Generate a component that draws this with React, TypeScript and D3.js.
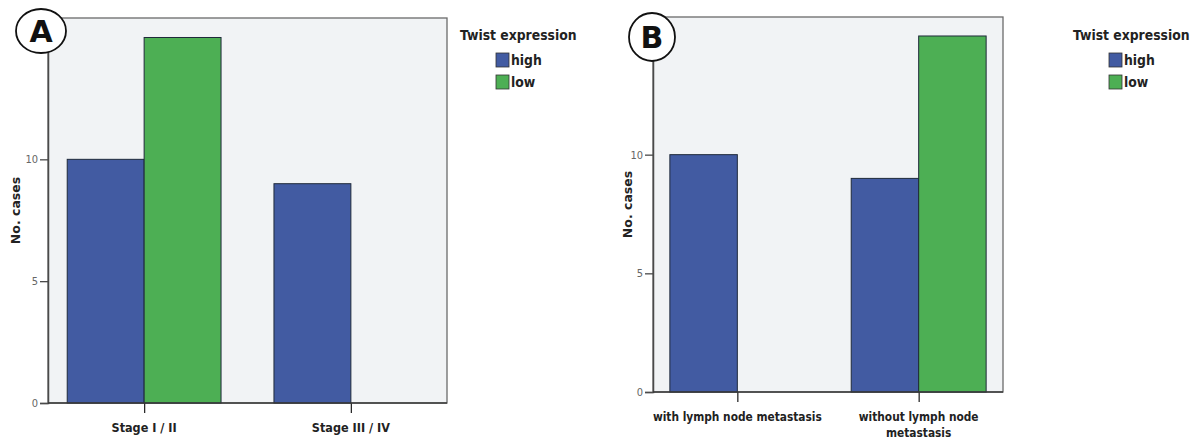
// App.tsx
import React, { useRef, useEffect } from 'react';
import * as d3 from 'd3';

// data
const seriesNames = ['high', 'low'];
const seriesColors = ['#425ba2', '#4daf54'];
const yTicks = [0, 5, 10];

const stageCategories = ['Stage I / II', 'Stage III / IV'];
const stageHigh = [10, 9];
const stageLow = [15, 0];

const lymphCategories = ['with lymph node metastasis', 'without lymph node metastasis'];
const lymphLabelLines = [['with lymph node metastasis'], ['without lymph node', 'metastasis']];
const lymphHigh = [10, 9];
const lymphLow = [0, 15];

const FONT = "'DejaVu Sans Condensed', 'Liberation Sans Narrow', 'DejaVu Sans', sans-serif";

const panels = [
  {
    letter: 'A',
    categories: stageCategories,
    labelLines: stageCategories.map((c) => [c]),
    high: stageHigh,
    low: stageLow,
    frame: { left: 48, top: 18, right: 447, bottom: 403 },
    badge: { cx: 41, cy: 31, rx: 25, ry: 22 },
    yTitleX: 16,
    legendX: 460,
    labelY: 432,
    labelSize: 12.5,
  },
  {
    letter: 'B',
    categories: lymphCategories,
    labelLines: lymphLabelLines,
    high: lymphHigh,
    low: lymphLow,
    frame: { left: 653, top: 17, right: 1003, bottom: 392 },
    badge: { cx: 652, cy: 37, rx: 23, ry: 24 },
    yTitleX: 628,
    legendX: 1073,
    labelY: 421,
    labelSize: 11.8,
  },
];

const App = () => {
  const chartRef = useRef<SVGSVGElement>(null);

  useEffect(() => {
    const root = d3.select(chartRef.current);
    root.selectAll('*').remove();

    panels.forEach((p) => {
      const { left, top, right, bottom } = p.frame;
      const g = root.append('g');

      const xScale = d3.scalePoint<string>().domain(p.categories).range([left, right]).padding(0.465);
      const barW = xScale.step() * 0.372;
      const yScale = d3.scaleLinear().domain([0, 15.8]).range([bottom, top]);

      // plot background + frame
      g.append('rect')
        .attr('x', left)
        .attr('y', top)
        .attr('width', right - left)
        .attr('height', bottom - top)
        .style('fill', '#f1f3f5')
        .style('stroke', '#6a6a6a')
        .style('stroke-width', 1.3);

      // bars: high on the left of the tick, low on the right
      const rows = p.categories.flatMap((c, i) => [
        { cat: c, s: 0, v: p.high[i] },
        { cat: c, s: 1, v: p.low[i] },
      ]).filter((d) => d.v > 0);

      g.selectAll('rect.bar')
        .data(rows)
        .enter()
        .append('rect')
        .attr('class', 'bar')
        .attr('x', (d) => (xScale(d.cat) as number) - (d.s === 0 ? barW : 0))
        .attr('y', (d) => yScale(d.v))
        .attr('width', barW)
        .attr('height', (d) => yScale(0) - yScale(d.v))
        .style('fill', (d) => seriesColors[d.s])
        .style('stroke', '#1f2a3a')
        .style('stroke-width', 1);

      // y axis
      const yAxis = d3.axisLeft(yScale).tickValues(yTicks).tickSize(8).tickPadding(2).tickFormat(d3.format('d'));
      const ya = g.append('g').attr('transform', `translate(${left},0)`).call(yAxis);
      ya.select('.domain').style('stroke', '#4a4a4a').style('stroke-width', 1.5);
      ya.selectAll('.tick line').style('stroke', '#4a4a4a').style('stroke-width', 1.3);
      ya.selectAll('.tick text')
        .style('font-family', FONT)
        .style('font-size', '11px')
        .style('fill', '#666');

      // x axis line + ticks
      const xAxis = d3.axisBottom(xScale).tickSize(10).tickFormat(() => '');
      const xa = g.append('g').attr('transform', `translate(0,${bottom})`).call(xAxis);
      xa.select('.domain').remove();
      xa.selectAll('.tick line').style('stroke', '#2a2a2a').style('stroke-width', 1.3);
      g.append('line')
        .attr('x1', left)
        .attr('x2', right)
        .attr('y1', bottom)
        .attr('y2', bottom)
        .style('stroke', '#3a3a3a')
        .style('stroke-width', 1.5);

      // category labels
      p.categories.forEach((c, i) => {
        const t = g.append('text')
          .attr('x', xScale(c) as number)
          .attr('y', p.labelY)
          .attr('text-anchor', 'middle')
          .style('font-family', FONT)
          .style('font-weight', 'bold')
          .style('font-size', `${p.labelSize}px`)
          .style('fill', '#222');
        p.labelLines[i].forEach((line, j) => {
          t.append('tspan').attr('x', xScale(c) as number).attr('dy', j === 0 ? 0 : 16).text(line);
        });
      });

      // y title
      g.append('text')
        .attr('transform', `translate(${p.yTitleX},${(top + bottom) / 2}) rotate(-90)`)
        .attr('text-anchor', 'middle')
        .attr('dy', '0.35em')
        .style('font-family', "'DejaVu Sans', sans-serif")
        .style('font-weight', 'bold')
        .style('font-size', '12.5px')
        .style('fill', '#222')
        .text('No. cases');

      // panel badge
      g.append('ellipse')
        .attr('cx', p.badge.cx)
        .attr('cy', p.badge.cy)
        .attr('rx', p.badge.rx)
        .attr('ry', p.badge.ry)
        .style('fill', '#fff')
        .style('stroke', '#111')
        .style('stroke-width', 1.8);
      g.append('text')
        .attr('x', p.badge.cx)
        .attr('y', p.badge.cy)
        .attr('dy', '0.36em')
        .attr('text-anchor', 'middle')
        .style('font-family', "'DejaVu Sans', sans-serif")
        .style('font-weight', 'bold')
        .style('font-size', '30px')
        .style('fill', '#111')
        .text(p.letter);

      // legend
      g.append('text')
        .attr('x', p.legendX)
        .attr('y', 40)
        .style('font-family', FONT)
        .style('font-weight', 'bold')
        .style('font-size', '13.8px')
        .style('fill', '#222')
        .text('Twist expression');
      seriesNames.forEach((s, i) => {
        const y0 = 53 + i * 22;
        g.append('rect')
          .attr('x', p.legendX + 36)
          .attr('y', y0)
          .attr('width', 13)
          .attr('height', 14)
          .style('fill', seriesColors[i])
          .style('stroke', '#333')
          .style('stroke-width', 0.8);
        g.append('text')
          .attr('x', p.legendX + 51)
          .attr('y', y0 + 12)
          .style('font-family', FONT)
          .style('font-weight', 'bold')
          .style('font-size', '13.8px')
          .style('fill', '#222')
          .text(s);
      });
    });
  }, []);

  return (
    <div style={{ position: 'absolute', left: 0, top: 0 }}>
      <svg ref={chartRef} width={1198} height={439} style={{ display: 'block', background: '#fff' }}></svg>
    </div>
  );
};

export default App;
